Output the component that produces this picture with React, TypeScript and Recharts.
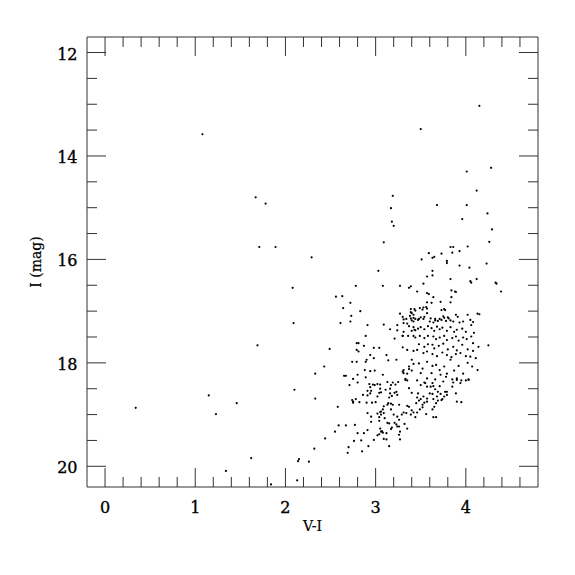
import React from 'react';
import { ScatterChart, Scatter, XAxis, YAxis, Label } from 'recharts';

type P = [number, number];

// V-I colour, I magnitude
const fieldStars: P[] = [
  [0.34, 18.87], [1.08, 13.58], [1.15, 18.63], [1.23, 18.99], [1.34, 20.09], [1.46, 18.78],
  [1.62, 19.84], [1.67, 14.8], [1.78, 14.92], [1.71, 15.76], [1.89, 15.76], [1.69, 17.66],
  [1.84, 20.35], [2.08, 16.55], [2.09, 17.23], [2.1, 18.52], [2.13, 20.27], [2.15, 19.86],
  [2.14, 19.9], [2.26, 19.91], [2.29, 15.96], [2.32, 19.66], [2.33, 18.21], [2.33, 18.69],
  [2.43, 18.07], [2.44, 19.46], [2.49, 17.73], [2.55, 19.33], [2.58, 18.85], [2.59, 19.21],
  [2.56, 16.72], [2.63, 16.71], [2.64, 16.94], [2.61, 17.23], [2.72, 16.84], [2.73, 17.09],
  [2.72, 17.2], [2.78, 16.51], [2.83, 17.0], [2.91, 17.27], [3.03, 16.22], [3.08, 16.51],
  [3.09, 15.67], [3.09, 17.26], [3.16, 17.35], [3.24, 17.27], [3.24, 17.37], [3.17, 15.01],
  [3.19, 14.77], [3.18, 15.27], [3.2, 15.35], [3.5, 13.48], [4.15, 13.03], [4.01, 14.3],
  [4.28, 14.23], [4.12, 14.67], [3.68, 14.95], [4.01, 14.95], [4.24, 15.11], [3.96, 15.22],
  [4.29, 15.42], [4.26, 15.66], [2.7, 19.63], [2.69, 19.74], [2.85, 19.71], [4.25, 17.66],
];

const brightGiants: P[] = [
  [3.83, 15.76], [3.86, 15.76], [4.02, 15.75], [3.59, 15.88], [3.63, 15.97], [3.65, 15.95],
  [3.73, 15.89], [3.85, 15.87], [3.93, 15.84], [3.51, 16.0], [3.79, 16.03], [3.79, 16.07],
  [3.93, 16.12], [4.04, 16.16], [4.23, 16.08], [3.63, 16.22], [3.57, 16.33], [3.63, 16.31],
  [3.83, 16.38], [4.12, 16.38], [4.33, 16.45], [4.34, 16.47], [4.39, 16.62], [4.05, 16.42],
  [4.06, 16.45], [3.53, 16.47], [3.46, 16.62], [3.27, 16.51], [3.37, 16.55], [3.39, 16.52],
  [3.57, 16.65], [3.59, 16.67], [3.64, 16.73], [3.84, 16.6], [3.88, 16.62], [3.89, 16.63],
  [3.84, 16.73], [3.62, 16.84], [3.72, 16.82], [3.83, 16.83], [3.57, 16.83], [3.39, 16.96],
  [3.43, 16.96], [3.49, 16.94], [3.53, 16.93], [3.56, 16.92], [3.73, 16.98], [3.76, 16.96],
  [3.77, 16.98],
];

const upperClump: P[] = [
  [3.27, 17.05], [3.3, 17.11], [3.39, 17.02], [3.44, 16.99], [3.52, 16.97], [3.57, 16.95],
  [3.57, 17.04], [3.42, 17.13], [3.48, 17.15], [3.53, 17.15], [3.61, 17.14], [3.66, 17.15],
  [3.71, 17.15], [3.76, 17.13], [3.81, 17.14], [3.89, 17.07], [3.91, 17.11], [4.02, 17.07],
  [4.13, 17.05], [3.31, 17.16], [3.34, 17.15], [3.38, 17.09], [3.4, 17.18], [3.44, 17.15],
  [3.47, 17.17], [3.5, 17.12], [3.54, 17.11], [3.6, 17.2], [3.64, 17.22], [3.66, 17.18],
  [3.69, 17.19], [3.73, 17.17], [3.75, 17.1], [3.78, 17.19], [3.8, 17.12], [3.83, 17.18],
  [3.86, 17.2], [3.93, 17.22], [3.97, 17.2], [4.05, 17.17], [4.08, 17.21], [4.15, 17.06],
  [3.31, 17.23], [3.35, 17.24], [3.4, 17.04], [3.31, 17.4], [3.39, 17.14], [3.42, 17.07],
  [3.42, 17.2], [3.43, 17.36], [3.4, 17.38], [3.36, 17.48],
  [3.37, 17.29], [3.42, 17.31], [3.44, 17.37], [3.47, 17.34], [3.5, 17.31], [3.54, 17.35],
  [3.58, 17.29], [3.62, 17.33], [3.65, 17.38], [3.68, 17.3], [3.71, 17.35], [3.74, 17.32],
  [3.79, 17.38], [3.83, 17.31], [3.87, 17.4], [3.9, 17.36], [3.96, 17.34], [4.0, 17.4],
  [4.06, 17.27], [4.09, 17.42],
  [3.3, 17.48], [3.42, 17.48], [3.44, 17.51], [3.49, 17.48], [3.54, 17.52], [3.58, 17.48],
  [3.64, 17.49], [3.67, 17.54], [3.71, 17.51], [3.76, 17.48], [3.79, 17.56], [3.85, 17.52],
  [3.89, 17.49], [3.92, 17.57], [3.97, 17.51], [4.01, 17.54], [4.06, 17.49], [4.08, 17.62],
];

const middleClump: P[] = [
  [3.48, 17.64], [3.54, 17.69], [3.58, 17.64], [3.63, 17.65], [3.65, 17.72], [3.7, 17.67],
  [3.75, 17.63], [3.8, 17.74], [3.86, 17.69], [3.9, 17.76], [3.96, 17.65], [4.02, 17.74],
  [4.08, 17.77], [4.14, 17.69], [3.46, 17.75], [3.53, 17.81], [3.57, 17.78], [3.63, 17.83],
  [3.68, 17.87], [3.74, 17.8], [3.79, 17.85], [3.84, 17.89], [3.89, 17.83], [3.94, 17.81],
  [4.0, 17.87], [4.05, 17.88], [4.11, 17.91], [3.35, 17.75], [3.3, 17.7], [3.42, 17.77],
  [3.4, 17.94], [3.37, 18.07], [3.42, 18.02], [3.48, 18.01], [3.52, 18.11], [3.57, 17.98],
  [3.63, 18.06], [3.67, 18.04], [3.71, 18.14], [3.76, 18.07], [3.79, 18.21], [3.83, 17.94],
  [3.87, 18.15], [3.92, 18.06], [3.97, 18.21], [4.02, 18.0], [4.07, 18.07], [4.13, 18.14],
  [3.5, 18.2], [3.57, 18.3], [3.62, 18.2], [3.66, 18.32], [3.72, 18.23], [3.78, 18.27],
  [3.85, 18.32], [3.9, 18.3], [3.95, 18.34], [4.03, 18.32], [3.3, 18.17], [3.35, 18.21],
  [3.37, 18.12], [3.4, 18.15], [3.31, 18.14], [3.31, 18.2], [3.33, 18.31], [3.86, 18.38],
  [3.9, 18.33], [4.03, 18.33],
  [3.3, 17.48], [3.21, 17.53], [2.89, 17.48], [2.79, 17.62], [2.81, 17.62], [2.79, 17.75],
  [2.81, 17.78], [2.87, 17.67], [2.98, 17.71], [3.04, 17.71], [2.94, 17.85], [2.98, 17.91],
  [2.9, 17.94], [2.89, 17.98], [2.74, 17.98], [2.79, 17.98], [3.12, 17.85], [3.23, 17.94],
  [3.14, 17.95], [2.88, 18.14], [2.94, 18.16], [2.99, 18.15], [2.8, 18.23], [2.65, 18.25],
  [2.67, 18.25], [2.75, 18.31], [2.89, 18.28], [3.08, 18.23], [2.8, 18.38], [2.71, 18.43],
];

const faintBranch: P[] = [
  [3.46, 18.34], [3.5, 18.43], [3.54, 18.38], [3.57, 18.46], [3.63, 18.39], [3.66, 18.51],
  [3.71, 18.45], [3.75, 18.36], [3.79, 18.56], [3.85, 18.46], [3.89, 18.59], [3.94, 18.39],
  [4.0, 18.34], [3.37, 18.49], [3.4, 18.58], [3.47, 18.59], [3.53, 18.65], [3.57, 18.69],
  [3.63, 18.6], [3.68, 18.65], [3.74, 18.7], [3.79, 18.62],
  [3.46, 18.67], [3.45, 18.78], [3.48, 18.73], [3.5, 18.7], [3.54, 18.77], [3.57, 18.75],
  [3.61, 18.46], [3.64, 18.45], [3.69, 18.56], [3.72, 18.6], [3.77, 18.56], [3.76, 18.65],
  [3.55, 18.39], [3.6, 18.59], [3.64, 18.7], [3.67, 18.78], [3.69, 18.73], [3.73, 18.72],
  [3.52, 18.81], [3.49, 18.9], [3.52, 18.86], [3.56, 18.99], [3.46, 18.96], [3.44, 19.05],
  [3.65, 18.85], [3.63, 18.9], [3.67, 19.05], [3.64, 19.05], [3.9, 18.75], [3.95, 18.76],
  [2.93, 18.41], [2.97, 18.42], [2.94, 18.47], [3.05, 18.42], [3.13, 18.37], [3.19, 18.38],
  [3.22, 18.42], [3.16, 18.5], [3.23, 18.56], [3.05, 18.5], [3.06, 18.57], [3.04, 18.58],
  [2.94, 18.59], [2.91, 18.63], [2.86, 18.62], [2.78, 18.7], [2.75, 18.75], [2.74, 18.72],
  [2.82, 18.76], [2.9, 18.77], [2.96, 18.77], [3.0, 18.76], [3.02, 18.65], [3.15, 18.67],
  [3.18, 18.64], [3.13, 18.81], [3.17, 18.79], [3.19, 18.81], [2.99, 18.43], [3.02, 18.41],
  [3.17, 18.43], [3.25, 18.37], [3.33, 18.33], [3.35, 18.34], [3.11, 18.52], [3.16, 18.59],
  [3.21, 18.58], [3.24, 18.62], [2.91, 18.54], [2.95, 18.54], [3.14, 18.78], [3.09, 18.84],
  [3.08, 18.9], [3.05, 18.95], [3.02, 18.98], [3.17, 18.9], [3.26, 18.81], [3.35, 18.83],
  [3.37, 18.85], [3.4, 18.92], [3.42, 18.96], [3.39, 19.0], [3.34, 18.97], [3.31, 18.96],
  [3.29, 19.0], [3.06, 18.94], [3.09, 18.97], [3.06, 19.0], [2.91, 18.97], [2.95, 19.14],
  [3.04, 19.05], [3.04, 19.12], [3.1, 19.07], [3.13, 19.16], [3.15, 19.17], [3.2, 19.0],
  [3.24, 19.04], [3.26, 19.1], [3.23, 19.19], [3.24, 19.23], [3.27, 19.33], [3.17, 19.28],
  [3.07, 19.32], [3.04, 19.38], [3.02, 19.4], [3.09, 19.47], [3.12, 19.48], [2.98, 19.49],
  [2.91, 19.3], [2.87, 19.36], [2.8, 19.36], [2.77, 19.2], [2.67, 19.21], [2.76, 19.51],
  [2.84, 19.5], [2.92, 19.61], [3.15, 19.61], [3.27, 19.48], [2.95, 19.04], [3.21, 19.16],
  [3.26, 19.23], [3.32, 19.18], [3.35, 19.27], [3.05, 19.27], [3.06, 19.33], [3.08, 19.35],
  [3.12, 19.36], [3.18, 19.25], [3.26, 19.39], [2.75, 18.77],
];

const xTicks = [0, 0.2, 0.4, 0.6, 0.8, 1, 1.2, 1.4, 1.6, 1.8, 2, 2.2, 2.4, 2.6, 2.8, 3, 3.2, 3.4, 3.6, 3.8, 4, 4.2, 4.4, 4.6];
const xLabels = [0, 1, 2, 3, 4];
const yTicks = [12, 12.5, 13, 13.5, 14, 14.5, 15, 15.5, 16, 16.5, 17, 17.5, 18, 18.5, 19, 19.5, 20];
const yLabels = [12, 14, 16, 18, 20];

const stars = [...fieldStars, ...brightGiants, ...upperClump, ...middleClump, ...faintBranch].map(
  ([vi, mag]) => ({ vi, mag })
);

const FONT = "'DejaVu Serif', serif";
const INK = '#333';
const MAJOR = 19;
const MINOR = 10;
const isIn = (v: number, list: number[]) => list.some((m) => Math.abs(m - v) < 1e-6);

const BottomTick = (p: any) => {
  const { x, y, payload } = p;
  const major = isIn(payload.value, xLabels);
  return (
    <g>
      <line x1={x} x2={x} y1={y} y2={y - (major ? MAJOR : MINOR)} stroke={INK} strokeWidth={1} />
      {major && (
        <text x={x} y={y + 26} textAnchor="middle" fontFamily={FONT} fontSize={16} fill="#000" stroke="#000" strokeWidth={0.35}>
          {payload.value}
        </text>
      )}
    </g>
  );
};

const TopTick = (p: any) => {
  const { x, y, payload } = p;
  const major = isIn(payload.value, xLabels);
  return <line x1={x} x2={x} y1={y} y2={y + (major ? MAJOR : MINOR)} stroke={INK} strokeWidth={1} />;
};

const LeftTick = (p: any) => {
  const { x, y, payload } = p;
  const major = isIn(payload.value, yLabels);
  return (
    <g>
      <line x1={x} x2={x + (major ? MAJOR : MINOR)} y1={y} y2={y} stroke={INK} strokeWidth={1} />
      {major && (
        <text x={x - 9.5} y={y + 7} textAnchor="end" fontFamily={FONT} fontSize={16} fill="#000" stroke="#000" strokeWidth={0.35}>
          {payload.value}
        </text>
      )}
    </g>
  );
};

const RightTick = (p: any) => {
  const { x, y, payload } = p;
  const major = isIn(payload.value, yLabels);
  return <line x1={x} x2={x - (major ? MAJOR : MINOR)} y1={y} y2={y} stroke={INK} strokeWidth={1} />;
};

const Dot = (p: any) => <circle cx={p.cx} cy={p.cy} r={1.1} fill="#000" />;
const NoDot = () => <g />;

const XTitle = (p: any) => {
  const vb = p.viewBox || {};
  return (
    <text x={vb.x + vb.width / 2} y={vb.y + 44} textAnchor="middle" fontFamily={FONT} fontSize={14} fill="#000" stroke="#000" strokeWidth={0.2}>
      V-I
    </text>
  );
};

const YTitle = (p: any) => {
  const vb = p.viewBox || {};
  const cx = vb.x + vb.width - 46;
  const cy = vb.y + vb.height / 2;
  return (
    <text x={cx} y={cy} transform={`rotate(-90 ${cx} ${cy})`} textAnchor="middle" fontFamily={FONT} fontSize={14} fill="#000" stroke="#000" strokeWidth={0.2}>
      I (mag)
    </text>
  );
};

export default function App() {
  return (
    <ScatterChart width={560} height={550} margin={{ top: 28, right: 29, bottom: 21, left: 19 }}>
      <XAxis
        xAxisId="b"
        dataKey="vi"
        type="number"
        domain={[-0.2, 4.8]}
        allowDataOverflow
        ticks={xTicks}
        interval={0}
        height={50}
        tickSize={0}
        tickMargin={0}
        tickLine={false}
        tick={<BottomTick />}
        axisLine={{ stroke: INK }}
      >
        <Label content={<XTitle />} />
      </XAxis>
      <XAxis
        xAxisId="t"
        orientation="top"
        dataKey="vi"
        type="number"
        domain={[-0.2, 4.8]}
        allowDataOverflow
        ticks={xTicks}
        interval={0}
        height={1}
        tickSize={0}
        tickMargin={0}
        tickLine={false}
        tick={<TopTick />}
        axisLine={{ stroke: INK }}
      />
      <YAxis
        yAxisId="l"
        dataKey="mag"
        type="number"
        reversed
        domain={[11.7, 20.4]}
        allowDataOverflow
        ticks={yTicks}
        interval={0}
        width={60}
        tickSize={0}
        tickMargin={0}
        tickLine={false}
        tick={<LeftTick />}
        axisLine={{ stroke: INK }}
      >
        <Label content={<YTitle />} />
      </YAxis>
      <YAxis
        yAxisId="r"
        orientation="right"
        dataKey="mag"
        type="number"
        reversed
        domain={[11.7, 20.4]}
        allowDataOverflow
        ticks={yTicks}
        interval={0}
        width={1}
        tickSize={0}
        tickMargin={0}
        tickLine={false}
        tick={<RightTick />}
        axisLine={{ stroke: INK }}
      />
      <Scatter xAxisId="t" yAxisId="r" data={stars} shape={<NoDot />} isAnimationActive={false} />
      <Scatter xAxisId="b" yAxisId="l" data={stars} shape={<Dot />} isAnimationActive={false} />
    </ScatterChart>
  );
}
